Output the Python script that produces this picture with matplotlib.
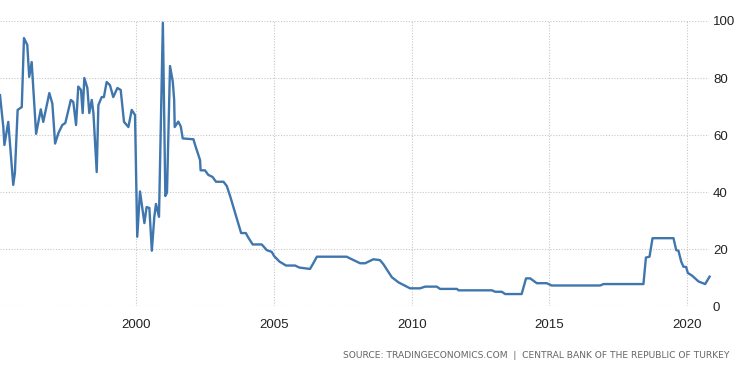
import matplotlib
matplotlib.use('Agg')
import matplotlib.pyplot as plt

# Turkey interest rate (%)
years = [1995.06, 1995.18, 1995.22, 1995.36, 1995.54, 1995.60, 1995.70, 1995.85, 1995.93,
         1996.05, 1996.12, 1996.21, 1996.37, 1996.54, 1996.63, 1996.85, 1996.96, 1997.06,
         1997.18, 1997.32, 1997.43, 1997.63, 1997.72, 1997.82, 1997.90, 1998.00, 1998.06,
         1998.12, 1998.23, 1998.30, 1998.39, 1998.45, 1998.57, 1998.63, 1998.75, 1998.83,
         1998.93, 1999.05, 1999.17, 1999.32, 1999.44, 1999.56, 1999.72, 1999.84, 1999.96,
         2000.04, 2000.14, 2000.30, 2000.38, 2000.48, 2000.57, 2000.66, 2000.72, 2000.83,
         2000.97, 2001.06, 2001.12, 2001.23, 2001.33, 2001.38, 2001.40, 2001.53, 2001.62,
         2001.69, 2002.08, 2002.14, 2002.32, 2002.34, 2002.50, 2002.62, 2002.77, 2002.90,
         2003.17, 2003.29, 2003.41, 2003.59, 2003.81, 2003.98, 2004.07, 2004.23, 2004.56,
         2004.74, 2004.92, 2005.01, 2005.20, 2005.44, 2005.77, 2005.92, 2006.31, 2006.43,
         2006.56, 2007.64, 2007.76, 2008.13, 2008.31, 2008.61, 2008.85, 2008.97, 2009.28,
         2009.52, 2009.94, 2010.30, 2010.49, 2010.91, 2011.03, 2011.64, 2011.70, 2012.91,
         2013.03, 2013.27, 2013.39, 2013.99, 2014.15, 2014.30, 2014.54, 2014.90, 2015.08,
         2016.84, 2016.96, 2018.41, 2018.50, 2018.63, 2018.74, 2019.50, 2019.60, 2019.68,
         2019.78, 2019.86, 2019.96, 2020.02, 2020.17, 2020.41, 2020.65, 2020.81]
rates = [74.0, 62.8, 56.5, 64.6, 42.5, 46.7, 68.8, 69.8, 94.0,
         91.6, 80.4, 85.6, 60.4, 69.0, 64.6, 74.7, 71.0, 57.0,
         60.7, 63.5, 64.2, 72.3, 71.6, 63.5, 77.0, 75.8, 67.7,
         80.0, 76.5, 67.7, 72.3, 67.7, 47.0, 70.5, 73.3, 73.3,
         78.6, 77.5, 73.3, 76.5, 75.8, 64.6, 62.8, 68.8, 67.0,
         24.3, 40.2, 29.1, 34.7, 34.4, 19.4, 31.3, 35.8, 31.3,
         99.4, 38.6, 39.8, 84.2, 78.7, 72.3, 62.8, 64.7, 63.0,
         58.8, 58.5, 56.5, 51.2, 47.6, 47.6, 46.0, 45.3, 43.6,
         43.6, 42.1, 38.6, 32.7, 25.6, 25.6, 24.0, 21.6, 21.6,
         19.6, 19.0, 17.5, 15.6, 14.2, 14.2, 13.5, 13.0, 15.0,
         17.3, 17.3, 16.7, 15.0, 15.0, 16.4, 16.1, 14.7, 10.1,
         8.3, 6.2, 6.2, 6.8, 6.8, 6.0, 6.0, 5.5, 5.5,
         5.0, 5.0, 4.2, 4.2, 9.7, 9.7, 8.0, 8.0, 7.2,
         7.2, 7.7, 7.7, 17.0, 17.3, 23.8, 23.8, 19.6, 19.4,
         15.6, 13.8, 13.7, 11.6, 10.7, 8.6, 7.7, 10.3]

x_ticks = [2000, 2005, 2010, 2015, 2020]
y_ticks = [0, 20, 40, 60, 80, 100]

plt.rcParams['font.family'] = ['Liberation Sans', 'DejaVu Sans']

fig = plt.figure(figsize=(7.5, 3.73), dpi=100)
ax = fig.add_axes([0.0, 0.1796, 0.945, 0.7641])

ax.plot(years, rates, color='#3f76ad', lw=1.7, solid_joinstyle='round', clip_on=False)

ax.set_xlim(1995.06, 2020.78)
ax.set_ylim(0, 100)
ax.set_xticks(x_ticks)
ax.set_yticks(y_ticks)
ax.yaxis.tick_right()
ax.tick_params(axis='both', length=0, labelsize=9.5, colors='#222222')
ax.tick_params(axis='x', pad=9)
ax.tick_params(axis='y', pad=3)
ax.grid(True, color='#c8c8c8', linestyle=(0, (1, 1.5)), linewidth=0.8)
ax.set_axisbelow(True)
for s in ax.spines.values():
    s.set_visible(False)

fig.text(0.973, 0.048, 'SOURCE: TRADINGECONOMICS.COM  |  CENTRAL BANK OF THE REPUBLIC OF TURKEY',
         ha='right', va='center', fontsize=6.6, color='#666666', family='DejaVu Sans')

fig.savefig('out.png', dpi=100)
